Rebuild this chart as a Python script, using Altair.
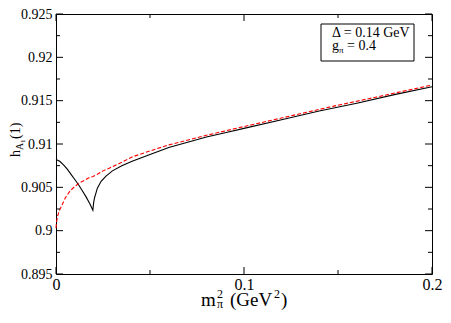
import altair as alt
import pandas as pd

# ---- data ----
black_x = [0, 0.002, 0.004, 0.006, 0.008, 0.010, 0.012, 0.014, 0.016, 0.018, 0.0196,
           0.0200, 0.0205, 0.0212, 0.022, 0.024, 0.0266, 0.030, 0.035, 0.0405, 0.05,
           0.06, 0.07, 0.08, 0.09, 0.1, 0.12, 0.14, 0.16, 0.18, 0.2]
black_y = [0.9082, 0.9080, 0.9076, 0.9071, 0.9065, 0.9059, 0.9053, 0.9046, 0.9039, 0.9031, 0.90235,
           0.9032, 0.9038, 0.9043, 0.9049, 0.9057, 0.9063, 0.9069, 0.9075, 0.9080, 0.9088,
           0.9096, 0.9102, 0.9108, 0.9113, 0.9118, 0.9128, 0.9138, 0.9147, 0.9157, 0.9166]

red_x = [0, 0.0003, 0.001, 0.002, 0.0035, 0.005, 0.0075, 0.01, 0.0125, 0.015, 0.0175, 0.0196,
         0.022, 0.025, 0.0283, 0.035, 0.0405, 0.05, 0.06, 0.0667, 0.08, 0.0955, 0.12, 0.1477,
         0.17, 0.2]
red_y = [0.9003, 0.9010, 0.9018, 0.9024, 0.9031, 0.9038, 0.9046, 0.9051, 0.9055, 0.9058, 0.9061, 0.90625,
         0.9065, 0.9069, 0.9072, 0.9079, 0.90851, 0.9092, 0.9099, 0.91026, 0.9110, 0.91179, 0.9130, 0.91437,
         0.9154, 0.9168]

x_major = [0.0, 0.1, 0.2]
x_minor = [0.05, 0.15]
y_major = [0.895, 0.9, 0.905, 0.91, 0.915, 0.92, 0.925]
y_minor = [0.8975, 0.9025, 0.9075, 0.9125, 0.9175, 0.9225]

legend_line1 = "\u0394 = 0.14 GeV"
legend_g = "g"
legend_pi = "\u03c0"
legend_rest = "= 0.4"

FONT = "Liberation Serif, Times New Roman, Times, Nimbus Roman, DejaVu Serif, serif"
W, H = 376, 260

xs = alt.Scale(domain=[0, 0.2], nice=False, zero=False)
ys = alt.Scale(domain=[0.895, 0.925], nice=False, zero=False)

xaxis = alt.Axis(values=x_major, format="~g", title=None, grid=False, ticks=False, tickSize=0,
                 domain=False, labelFontSize=16, labelPadding=2, labelColor="black",
                 labelFont=FONT, labelFlush=False, labelOverlap=False)
yaxis = alt.Axis(values=y_major, format="~g", title=None, grid=False, ticks=False, tickSize=0,
                 domain=False, labelFontSize=14, labelPadding=4, labelColor="black",
                 labelFont=FONT, labelFlush=False, labelOverlap=False)

df_black = pd.DataFrame({"x": black_x, "y": black_y})
df_red = pd.DataFrame({"x": red_x, "y": red_y})

black = alt.Chart(df_black).mark_line(color="black", strokeWidth=1.1).encode(
    x=alt.X("x:Q", scale=xs, axis=xaxis),
    y=alt.Y("y:Q", scale=ys, axis=yaxis),
)
red = alt.Chart(df_red).mark_line(color="#ff0000", strokeDash=[4, 2], strokeWidth=1.1).encode(
    x=alt.X("x:Q", scale=xs),
    y=alt.Y("y:Q", scale=ys),
)


def xticks(vals, length):
    d = pd.DataFrame({"v": vals})
    bot = alt.Chart(d).mark_rule(color="black", strokeWidth=1).encode(
        x=alt.X("v:Q", scale=xs), y=alt.value(H), y2=alt.value(H - length))
    top = alt.Chart(d).mark_rule(color="black", strokeWidth=1).encode(
        x=alt.X("v:Q", scale=xs), y=alt.value(0), y2=alt.value(length))
    return [bot, top]


def yticks(vals, length):
    d = pd.DataFrame({"v": vals})
    left = alt.Chart(d).mark_rule(color="black", strokeWidth=1).encode(
        y=alt.Y("v:Q", scale=ys), x=alt.value(0), x2=alt.value(length))
    right = alt.Chart(d).mark_rule(color="black", strokeWidth=1).encode(
        y=alt.Y("v:Q", scale=ys), x=alt.value(W), x2=alt.value(W - length))
    return [left, right]


one = pd.DataFrame({"a": [0]})


def txt(s, x, y, size, angle=0):
    kw = dict(text=s, font=FONT, fontSize=size, align="left", baseline="alphabetic", color="black")
    if angle:
        kw["angle"] = angle
    return alt.Chart(one).mark_text(**kw).encode(x=alt.value(x), y=alt.value(y))


# x axis title: m_pi^2 (GeV^2)
xtitle = [
    txt("m", 145, 292, 19),
    txt("\u03c0", 161, 294, 12),
    txt("2", 161, 284, 12),
    txt("(GeV", 174, 292, 19),
    txt("2", 218, 284, 12),
    txt(")", 225, 292, 19),
]
# y axis title: h_{A_1}(1), rotated
ytitle = [
    txt("h", -36, 143, 14, 270),
    txt("A", -33, 136, 10, 270),
    txt("1", -31, 129, 7, 270),
    txt("(1)", -36, 125, 14, 270),
]

box = alt.Chart(one).mark_rect(fill="white", stroke="black", strokeWidth=1).encode(
    x=alt.value(265), x2=alt.value(358), y=alt.value(10), y2=alt.value(47))
legend = [
    box,
    txt(legend_line1, 276, 23, 14),
    txt(legend_g, 276, 36, 14),
    txt(legend_pi, 283, 39, 9),
    txt(legend_rest, 291, 36, 14),
]

layers = ([black, red] + xticks(x_major, 7) + xticks(x_minor, 4)
          + yticks(y_major, 7) + yticks(y_minor, 4) + legend + xtitle + ytitle)

chart = alt.layer(*layers).properties(
    width=W, height=H,
    autosize=alt.AutoSizeParams(type="none"),
    padding={"left": 48, "top": 6, "right": 11, "bottom": 37},
).configure_view(stroke="black", strokeWidth=1).configure_axis(labelFont=FONT)

chart.save("out.html", embed_options={"renderer": "svg", "actions": False})
